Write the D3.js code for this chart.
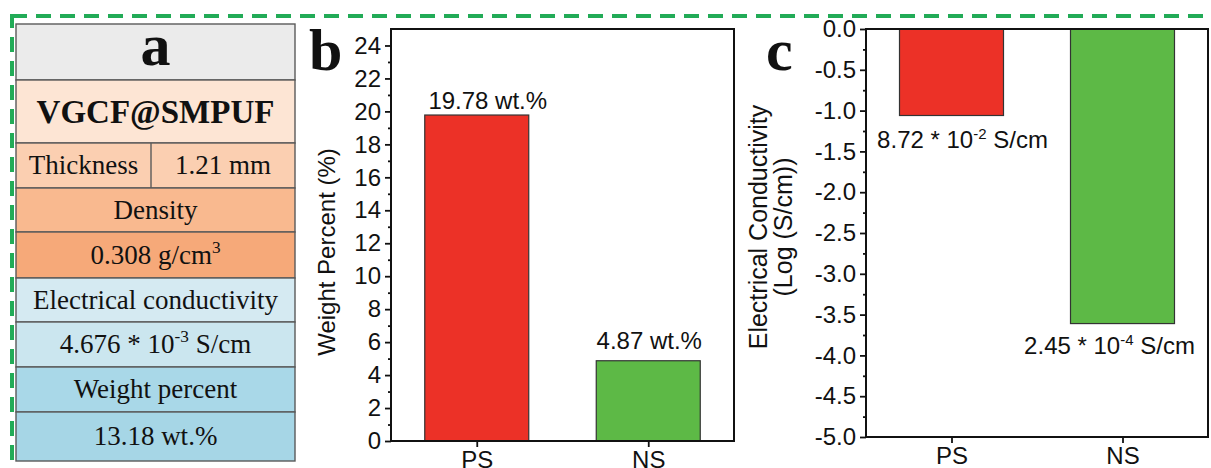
<!DOCTYPE html>
<html><head><meta charset="utf-8">
<script src="https://cdn.jsdelivr.net/npm/d3@7"></script>
<style>body{margin:0;background:#fff;overflow:hidden}</style>
</head><body>
<svg id="chart" width="1211" height="468"></svg>
<script>
// ---------- data ----------
const categories = ["PS", "NS"];
const weightPercent = [19.78, 4.87];
const weightLabels = ["19.78 wt.%", "4.87 wt.%"];
const logConductivity = [-1.06, -3.61];
const conductivityLabels = [["8.72 * 10", "-2", " S/cm"], ["2.45 * 10", "-4", " S/cm"]];
const weightTicks = [0, 2, 4, 6, 8, 10, 12, 14, 16, 18, 20, 22, 24];
const conductivityTicks = [0.0, -0.5, -1.0, -1.5, -2.0, -2.5, -3.0, -3.5, -4.0, -4.5, -5.0];
const tableRows = [
  ["a"],
  ["VGCF@SMPUF"],
  ["Thickness", "1.21 mm"],
  ["Density"],
  ["0.308 g/cm^{3}"],
  ["Electrical conductivity"],
  ["4.676 * 10^{-3} S/cm"],
  ["Weight percent"],
  ["13.18 wt.%"]
];
const panelLetters = ["a", "b", "c"];
const axisTitles = { b: ["Weight Percent (%)"], c: ["Electrical Conductivity", "(Log (S/cm))"] };

// ---------- layout / style ----------
const rowEdges = [24, 80, 143, 188, 232, 278, 322, 367, 412, 461];
const rowFills = ["#ebebeb", "#fde5d4", "#fbcfb1", "#f9b98f", "#f6a979", "#d5eaf2", "#cbe6ef", "#a9d8e8", "#a6d6e6"];
const tableX0 = 16, tableX1 = 295, tableSplit = 151;
const barColors = ["#ec3127", "#5db946"];
const serif = "'Liberation Serif', 'Times New Roman', serif";
const sans = "'Liberation Sans', Arial, sans-serif";

const svg = d3.select("#chart");

// green dashed frame
svg.append("rect").attr("x", 12).attr("y", 16).attr("width", 1230).attr("height", 480)
  .attr("fill", "none").attr("stroke", "#22ab57").attr("stroke-width", 4)
  .attr("stroke-dasharray", "15 9");

// ---------- table (panel a) ----------
function addRich(sel, str, fs) {
  const parts = str.split(/(\^\{[^}]*\})/).filter(s => s.length);
  let pending = 0;
  parts.forEach(p => {
    const m = p.match(/^\^\{([^}]*)\}$/);
    if (m) {
      sel.append("tspan").attr("dy", -0.42 * fs + pending).attr("font-size", fs * 0.64).text(m[1]);
      pending = 0.42 * fs;
    } else {
      const t = sel.append("tspan").text(p);
      if (pending) { t.attr("dy", pending); pending = 0; }
    }
  });
}
const tg = svg.append("g");
tableRows.forEach((cells, i) => {
  const y0 = rowEdges[i], y1 = rowEdges[i + 1], cy = (y0 + y1) / 2;
  tg.append("rect").attr("x", tableX0).attr("y", y0).attr("width", tableX1 - tableX0).attr("height", y1 - y0)
    .attr("fill", rowFills[i]).attr("stroke", "#5a5a5a").attr("stroke-width", 1.4);
  let fs = 27, weight = "normal", base = 0.33;
  if (i === 0) { fs = 60; weight = "bold"; base = 0.22; }
  if (i === 1) { fs = 33; weight = "bold"; base = 0.35; }
  if (cells.length === 2) {
    tg.append("line").attr("x1", tableSplit).attr("x2", tableSplit).attr("y1", y0).attr("y2", y1)
      .attr("stroke", "#5a5a5a").attr("stroke-width", 1.4);
  }
  const centers = cells.length === 2 ? [(tableX0 + tableSplit) / 2, (tableSplit + tableX1) / 2] : [(tableX0 + tableX1) / 2];
  cells.forEach((c, j) => {
    const t = tg.append("text").attr("x", centers[j]).attr("y", cy + base * fs)
      .attr("text-anchor", "middle").attr("font-family", serif).attr("font-size", fs)
      .attr("font-weight", weight).attr("fill", "#111");
    addRich(t, c, fs);
  });
});

// ---------- generic bar panel ----------
function styleAxis(g) {
  g.select(".domain").remove();
  g.selectAll(".tick line").attr("stroke", "#111").attr("stroke-width", 1.8);
  g.selectAll(".tick text").attr("font-family", sans).attr("font-size", 24).attr("fill", "#111");
}

// Panel b
const bL = 391, bR = 734, bT = 29, bB = 441;
const xB = d3.scalePoint().domain(categories).range([bL, bR]).padding(0.5);
const yB = d3.scaleLinear().domain([0, 25]).range([bB, bT]);
const barW = 104;
const pb = svg.append("g");
pb.append("g").attr("transform", `translate(${bL},0)`)
  .call(d3.axisLeft(yB).tickValues(d3.range(1, 25, 2)).tickSize(3).tickFormat(""))
  .call(styleAxis);
pb.append("g").attr("transform", `translate(${bL},0)`)
  .call(d3.axisLeft(yB).tickValues(weightTicks).tickSize(6).tickPadding(4).tickFormat(d3.format("d")))
  .call(styleAxis);
pb.append("g").attr("transform", `translate(0,${bB})`)
  .call(d3.axisBottom(xB).tickSize(6).tickPadding(4))
  .call(styleAxis);
pb.selectAll(".bar").data(categories).join("rect")
  .attr("x", d => xB(d) - barW / 2).attr("width", barW)
  .attr("y", (d, i) => yB(weightPercent[i])).attr("height", (d, i) => yB(0) - yB(weightPercent[i]))
  .attr("fill", (d, i) => barColors[i]).attr("stroke", "#333").attr("stroke-width", 1.2);
const bLabelDx = [11, 1], bLabelGap = [6, 12];
pb.selectAll(".vl").data(categories).join("text")
  .attr("x", (d, i) => xB(d) + bLabelDx[i]).attr("y", (d, i) => yB(weightPercent[i]) - bLabelGap[i])
  .attr("text-anchor", "middle").attr("font-family", sans).attr("font-size", 24).attr("fill", "#111")
  .text((d, i) => weightLabels[i]);
pb.append("rect").attr("x", bL).attr("y", bT).attr("width", bR - bL).attr("height", bB - bT)
  .attr("fill", "none").attr("stroke", "#111").attr("stroke-width", 2);
pb.append("text").attr("transform", `translate(335,${(bT + bB) / 2 + 17}) rotate(-90)`)
  .attr("text-anchor", "middle").attr("font-family", sans).attr("font-size", 24).attr("fill", "#111")
  .text(axisTitles.b[0]);
svg.append("text").attr("x", 309).attr("y", 70).attr("font-family", serif).attr("font-weight", "bold")
  .attr("font-size", 60).attr("fill", "#111").text(panelLetters[1]);

// Panel c
const cL = 866, cR = 1208, cT = 29, cB = 437;
const xC = d3.scalePoint().domain(categories).range([cL, cR]).padding(0.5);
const yC = d3.scaleLinear().domain([-5, 0]).range([cB, cT]);
const pc = svg.append("g");
pc.append("g").attr("transform", `translate(${cL},0)`)
  .call(d3.axisLeft(yC).tickValues(d3.range(-4.75, 0, 0.5)).tickSize(3).tickFormat(""))
  .call(styleAxis);
pc.append("g").attr("transform", `translate(${cL},0)`)
  .call(d3.axisLeft(yC).tickValues(conductivityTicks).tickSize(6).tickPadding(4).tickFormat(d => d3.format(".1f")(d).replace("\u2212", "-")))
  .call(styleAxis);
pc.append("g").attr("transform", `translate(0,${cB})`)
  .call(d3.axisBottom(xC).tickSize(6).tickPadding(4))
  .call(styleAxis);
pc.selectAll(".bar").data(categories).join("rect")
  .attr("x", d => xC(d) - barW / 2).attr("width", barW)
  .attr("y", yC(0)).attr("height", (d, i) => yC(logConductivity[i]) - yC(0))
  .attr("fill", (d, i) => barColors[i]).attr("stroke", "#333").attr("stroke-width", 1.2);
const cLabelDx = [11, -13], cLabelGap = [33, 30];
categories.forEach((d, i) => {
  const t = pc.append("text").attr("x", xC(d) + cLabelDx[i]).attr("y", yC(logConductivity[i]) + cLabelGap[i])
    .attr("text-anchor", "middle").attr("font-family", sans).attr("font-size", 24).attr("fill", "#111");
  const [a, sup, b] = conductivityLabels[i];
  t.append("tspan").text(a);
  t.append("tspan").attr("dy", -9).attr("font-size", 15).text(sup);
  t.append("tspan").attr("dy", 9).text(b);
});
pc.append("rect").attr("x", cL).attr("y", cT).attr("width", cR - cL).attr("height", cB - cT)
  .attr("fill", "none").attr("stroke", "#111").attr("stroke-width", 2);
const ct = pc.append("text").attr("transform", `translate(0,${(cT + cB) / 2 - 6}) rotate(-90)`)
  .attr("text-anchor", "middle").attr("font-family", sans).attr("font-size", 25).attr("fill", "#111");
ct.append("tspan").attr("x", 0).attr("y", 767).text(axisTitles.c[0]);
ct.append("tspan").attr("x", 0).attr("y", 792).text(axisTitles.c[1]);
svg.append("text").attr("x", 766).attr("y", 70).attr("font-family", serif).attr("font-weight", "bold")
  .attr("font-size", 60).attr("fill", "#111").text(panelLetters[2]);
</script>
</body></html>
